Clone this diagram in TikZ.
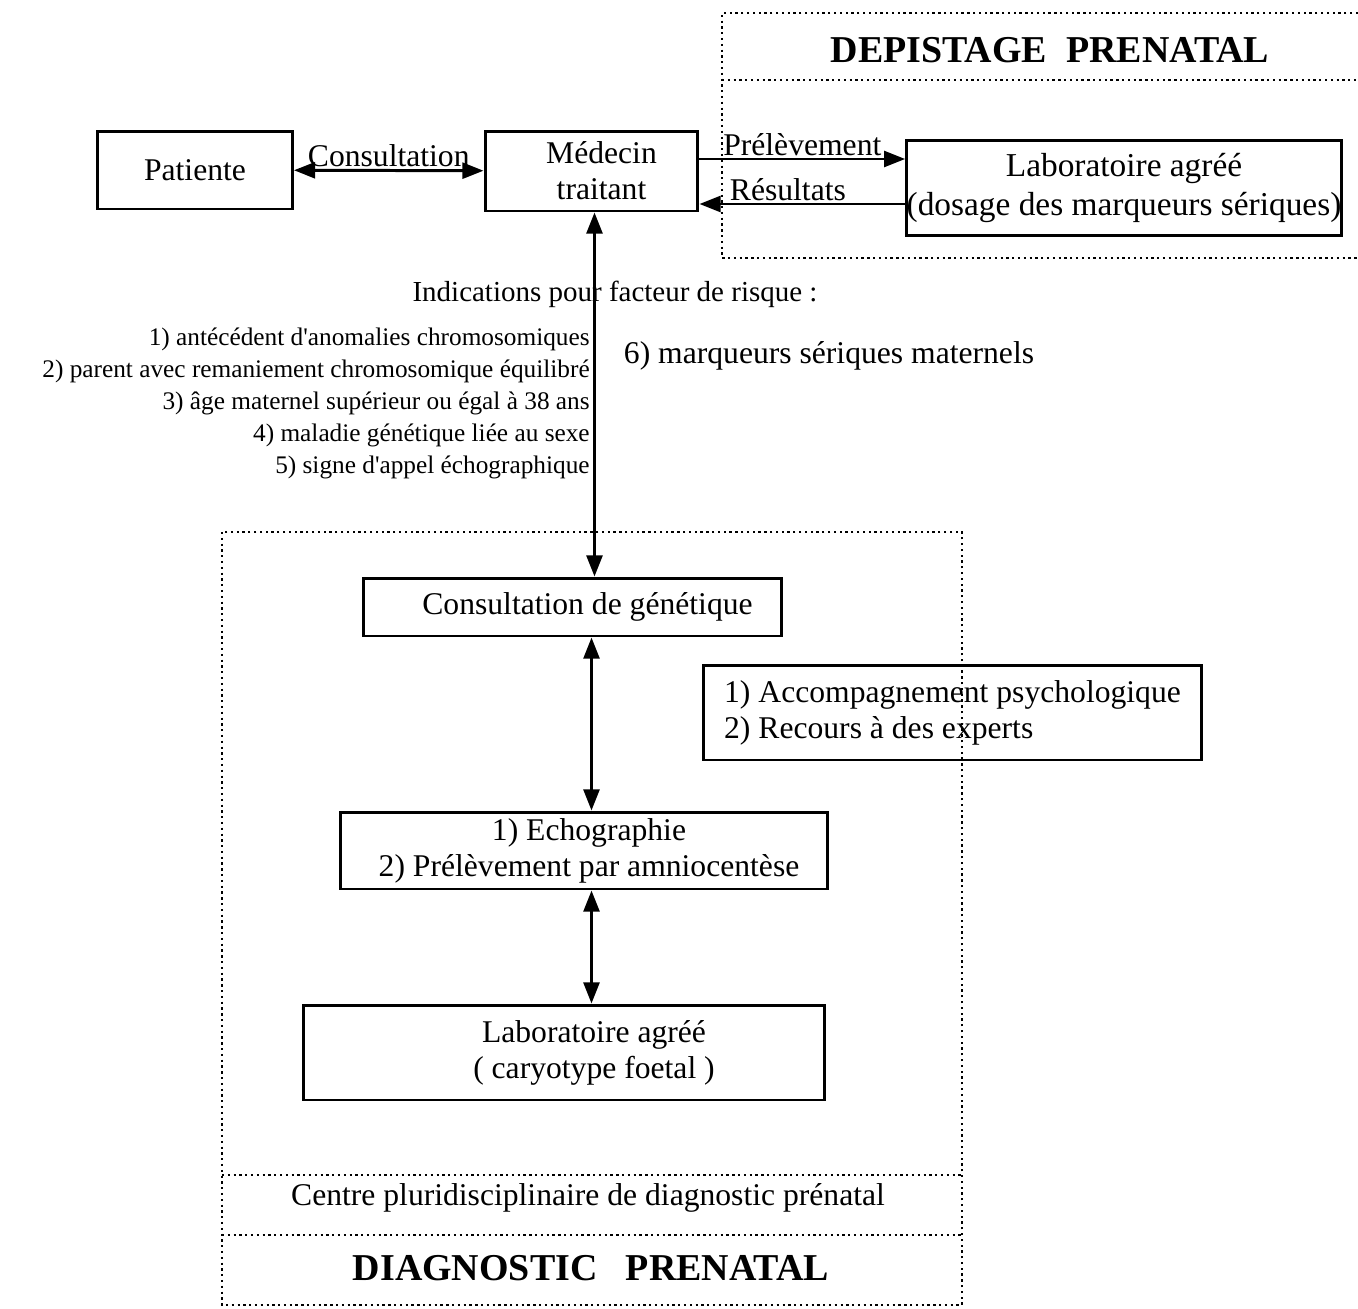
\documentclass[tikz,border=0pt]{standalone}
\usepackage{fontspec}
\setmainfont{Liberation Serif}
\usetikzlibrary{arrows.meta}
\tikzstyle{box} = [rectangle, draw=black, line width=1.7pt, inner sep=0pt, text centered, align=center, font=\fontsize{18}{20.5}\selectfont]
\tikzstyle{arrow} = [line width=1.7pt, -{Triangle[length=12pt,width=9pt]}]
\tikzstyle{dblarrow} = [line width=1.7pt, {Triangle[length=12pt,width=9pt]}-{Triangle[length=12pt,width=9pt]}]
\tikzstyle{frame} = [dotted, line width=1.3pt]
\tikzstyle{title} = [font=\fontsize{21.6}{25}\selectfont\bfseries]
\tikzstyle{lbl} = [font=\fontsize{18}{20.5}\selectfont, inner sep=1pt]

\begin{document}
\begin{tikzpicture}[x=0.02cm, y=-0.02cm]
    \useasboundingbox (0,0) rectangle (1358,1308);

    % cadres en pointilles
    \draw[frame] (1358,13) -- (722,13) -- (722,258) -- (1358,258);
    \draw[frame] (722,80) -- (1358,80);
    \draw[frame] (222,532) rectangle (962,1305);
    \draw[frame] (222,1175) -- (962,1175);
    \draw[frame] (222,1235) -- (962,1235);

    \node (depistage) [title] at (1050,50) {DEPISTAGE\ \ PRENATAL};
    \node (diagnostic) [title] at (591,1268) {DIAGNOSTIC\ \ \ PRENATAL};
    \node (centre) [lbl] at (588,1198) {Centre pluridisciplinaire de diagnostic prénatal};

    % boites
    \node (patiente) [box, minimum width=3.9cm, minimum height=1.56cm] at (195,170) {Patiente};
    \node (medecin) [box, minimum width=4.26cm, minimum height=1.6cm] at (591.5,171) {\hspace*{0.4cm}Médecin\\\hspace*{0.4cm}traitant};
    \node (labdosage) [box, minimum width=8.56cm, minimum height=1.92cm, font=\fontsize{19}{22}\selectfont] at (1124,188) {Laboratoire agréé\\(dosage des marqueurs sériques)};
    \node (consgen) [box, minimum width=8.38cm, minimum height=1.16cm] at (572.5,607) {\hspace*{0.6cm}Consultation de génétique};
    \node (accomp) [box, align=left, minimum width=9.98cm, minimum height=1.9cm] at (952.5,712.5) {1) Accompagnement psychologique\\2) Recours à des experts};
    \node (echo) [box, minimum width=9.76cm, minimum height=1.54cm] at (584,850.5) {\hspace*{0.2cm}1) Echographie\\\hspace*{0.2cm}2) Prélèvement par amniocentèse};
    \node (labcaryo) [box, minimum width=10.44cm, minimum height=1.9cm] at (564,1052.5) {\hspace*{1.2cm}Laboratoire agréé\\\hspace*{1.2cm}( caryotype foetal )};

    % indications
    \node (indications) [font=\fontsize{16.5}{19}\selectfont] at (615,294) {Indications pour facteur de risque :};
    \node (liste) [anchor=north east, align=right, inner sep=0pt, font=\fontsize{14.4}{18.1}\selectfont] at (590,328) {1) antécédent d\textquotesingle anomalies chromosomiques\\2) parent avec remaniement chromosomique équilibré\\3) âge maternel supérieur ou égal à 38 ans\\4) maladie génétique liée au sexe\\5) signe d\textquotesingle appel échographique};
    \node (marqueurs) [lbl] at (829,356) {6) marqueurs sériques maternels};

    % fleches
    \draw[dblarrow] (patiente) -- node[lbl, above] {Consultation} (medecin);
    \draw[arrow] ([yshift=0.24cm]medecin.east) -- node[lbl, above] {Prélèvement} ([yshift=0.24cm]medecin.east -| labdosage.west);
    \draw[arrow] ([yshift=-0.66cm]medecin.east -| labdosage.west) -- node[lbl, above, pos=0.57] {Résultats} ([yshift=-0.66cm]medecin.east);
    \draw[dblarrow] ([xshift=0.06cm]medecin.south) -- ([xshift=0.06cm]medecin.south |- consgen.north);
    \draw[dblarrow] (consgen.south -| medecin.south) -- (echo.north -| medecin.south);
    \draw[dblarrow] (echo.south -| medecin.south) -- (labcaryo.north -| medecin.south);
\end{tikzpicture}
\end{document}
